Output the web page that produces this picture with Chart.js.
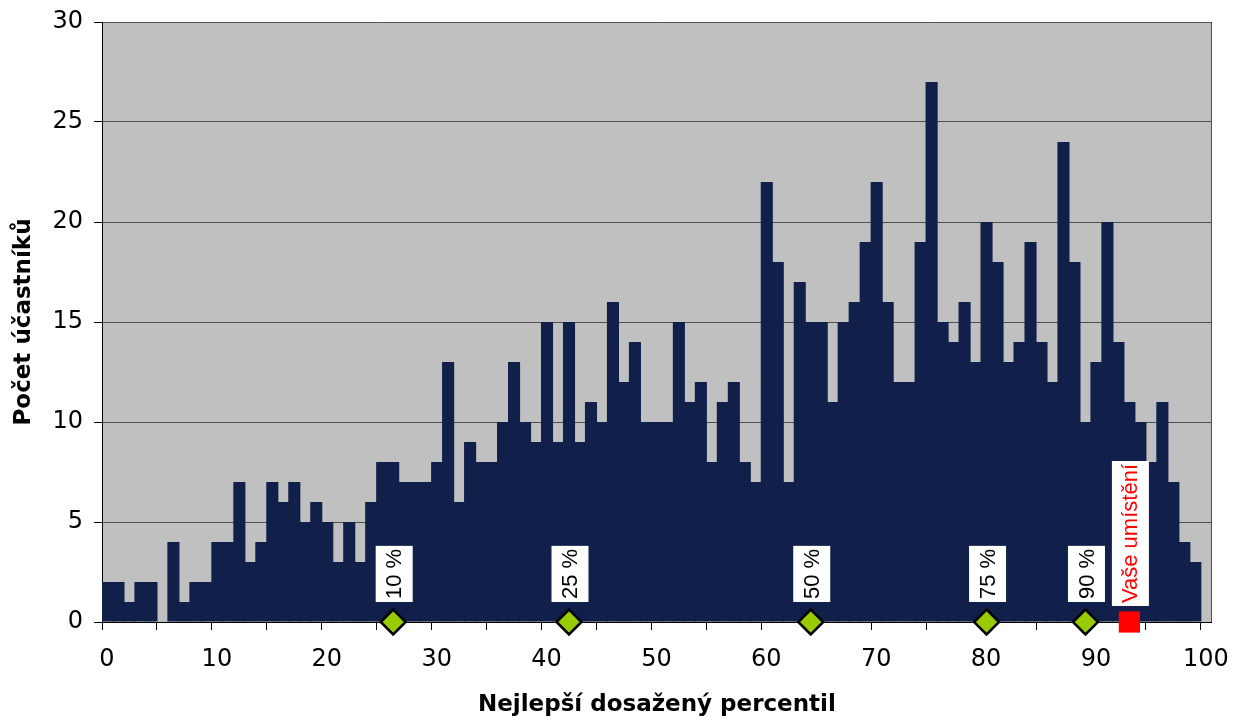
<!DOCTYPE html>
<html>
<head>
<meta charset="utf-8">
<script src="https://cdn.jsdelivr.net/npm/chart.js@4.4.1/dist/chart.umd.min.js"></script>
<style>
  html, body { margin: 0; padding: 0; background: #fff; }
  #obal { width: 1239px; height: 722px; }
</style>
</head>
<body>
<div id="obal"><canvas id="graf" width="1239" height="722"></canvas></div>
<script>
// Počty účastníků pro percentily 0–99
const pocty = [
  2, 2, 1, 2, 2, 0, 4, 1, 2, 2,
  4, 4, 7, 3, 4, 7, 6, 7, 5, 6,
  5, 3, 5, 3, 6, 8, 8, 7, 7, 7,
  8, 13, 6, 9, 8, 8, 10, 13, 10, 9,
  15, 9, 15, 9, 11, 10, 16, 12, 14, 10,
  10, 10, 15, 11, 12, 8, 11, 12, 8, 7,
  22, 18, 7, 17, 15, 15, 11, 15, 16, 19,
  22, 16, 12, 12, 19, 27, 15, 14, 16, 13,
  20, 18, 13, 14, 19, 14, 12, 24, 18, 10,
  13, 20, 14, 11, 10, 8, 11, 7, 4, 3
];
const percentily = pocty.map((_, i) => i);

// značky kvantilů a vlastní umístění
const kvantilPopisky = ['10 %', '25 %', '50 %', '75 %', '90 %'];
const kvantilPercentily = [26, 42, 64, 80, 89];
const vasePopisky = ['Vaše umístění'];
const vasePercentily = [93];

// popisky os
const xTicky = [0, 5, 10, 15, 20, 25, 30, 35, 40, 45, 50, 55, 60, 65, 70, 75, 80, 85, 90, 95, 100];
const yTicky = [0, 5, 10, 15, 20, 25, 30];

const pismo = '"DejaVu Sans", sans-serif';

// šedé pozadí plochy grafu + pravý okraj
const pozadiPlugin = {
  id: 'pozadi',
  beforeDraw(chart) {
    const { ctx, chartArea: a } = chart;
    ctx.save();
    ctx.fillStyle = '#c0c0c0';
    ctx.fillRect(a.left, a.top, a.right - a.left, a.bottom - a.top);
    ctx.restore();
  },
  beforeDatasetsDraw(chart) {
    const { ctx, chartArea: a } = chart;
    ctx.save();
    ctx.strokeStyle = '#505050';
    ctx.lineWidth = 1;
    ctx.beginPath();
    ctx.moveTo(Math.round(a.right) - 0.5, a.top);
    ctx.lineTo(Math.round(a.right) - 0.5, a.bottom);
    ctx.stroke();
    ctx.restore();
  }
};

// bílé rámečky se svislým textem nad značkami
const popiskyPlugin = {
  id: 'popisky',
  afterDatasetsDraw(chart) {
    const ctx = chart.ctx;
    chart.data.datasets.forEach((ds, di) => {
      if (!ds.popisky) return;
      const meta = chart.getDatasetMeta(di);
      meta.data.forEach((pt, i) => {
        const text = ds.popisky[i];
        ctx.save();
        ctx.font = '22px "Liberation Sans", Arial, sans-serif';
        const delka = ctx.measureText(text).width + 6;
        const sirka = 37;
        const spodek = pt.y - ds.odsazeni;
        ctx.fillStyle = '#fff';
        ctx.fillRect(pt.x + 1 - sirka / 2, spodek - delka, sirka, delka);
        ctx.translate(pt.x + 1, spodek - delka / 2);
        ctx.rotate(-Math.PI / 2);
        ctx.fillStyle = ds.barvaPopisku;
        ctx.textAlign = 'center';
        ctx.textBaseline = 'middle';
        ctx.fillText(text, 0, 1);
        ctx.restore();
      });
    });
  }
};

const ctx = document.getElementById('graf').getContext('2d');

const graf = new Chart(ctx, {
  type: 'bar',
  data: {
    datasets: [
      {
        type: 'scatter',
        data: kvantilPercentily.map(p => ({ x: p + 0.5, y: 0 })),
        pointStyle: 'rectRot',
        pointRadius: 12.5,
        pointHoverRadius: 12.5,
        pointBackgroundColor: '#99cc00',
        pointBorderColor: '#000',
        pointBorderWidth: 2.5,
        clip: false,
        order: 1,
        popisky: kvantilPopisky,
        odsazeni: 20,
        barvaPopisku: '#000'
      },
      {
        type: 'scatter',
        data: vasePercentily.map(p => ({ x: p + 0.5, y: 0 })),
        pointStyle: 'rect',
        pointRadius: 15,
        pointHoverRadius: 15,
        pointBackgroundColor: '#ff0000',
        pointBorderWidth: 0,
        clip: false,
        order: 1,
        popisky: vasePopisky,
        odsazeni: 16,
        barvaPopisku: '#ff0000'
      },
      {
        type: 'bar',
        data: percentily.map((p, i) => ({ x: p + 0.5, y: pocty[i] })),
        backgroundColor: '#10204a',
        borderWidth: 0,
        barPercentage: 1.1,
        categoryPercentage: 1,
        order: 2
      }
    ]
  },
  options: {
    responsive: false,
    animation: false,
    layout: { padding: { left: 10, top: 22, right: 27, bottom: 0 } },
    plugins: {
      legend: { display: false },
      tooltip: { enabled: false }
    },
    scales: {
      x: {
        type: 'linear',
        min: 0,
        max: 101,
        offset: false,
        afterBuildTicks: s => { s.ticks = xTicky.map(v => ({ value: v })); },
        afterFit: s => { s.height = 100; },
        ticks: {
          autoSkip: false,
          maxRotation: 0,
          padding: 15,
          labelOffset: 5,
          color: '#000',
          font: { family: pismo, size: 24 },
          callback: v => (v % 10 === 0 ? v : '')
        },
        grid: {
          offset: false,
          drawOnChartArea: false,
          drawTicks: true,
          tickLength: 8,
          tickColor: '#000'
        },
        border: { color: '#000', width: 1 },
        title: {
          display: true,
          text: 'Nejlepší dosažený percentil',
          color: '#000',
          font: { family: pismo, size: 23, weight: 'bold' },
          padding: { top: 0, bottom: 3 }
        }
      },
      y: {
        min: 0,
        max: 30,
        afterBuildTicks: s => { s.ticks = yTicky.map(v => ({ value: v })); },
        afterFit: s => { s.width = 92; s.paddingTop = 0; s.paddingBottom = 0; },
        ticks: {
          padding: 11,
          color: '#000',
          font: { family: pismo, size: 24 }
        },
        grid: {
          color: '#505050',
          lineWidth: 1,
          tickLength: 8,
          tickColor: '#000'
        },
        border: { color: '#000', width: 1 },
        title: {
          display: true,
          text: 'Počet účastníků',
          color: '#000',
          font: { family: pismo, size: 23, weight: 'bold' },
          padding: { top: 0, bottom: 0 }
        }
      }
    }
  },
  plugins: [pozadiPlugin, popiskyPlugin]
});
</script>
</body>
</html>
